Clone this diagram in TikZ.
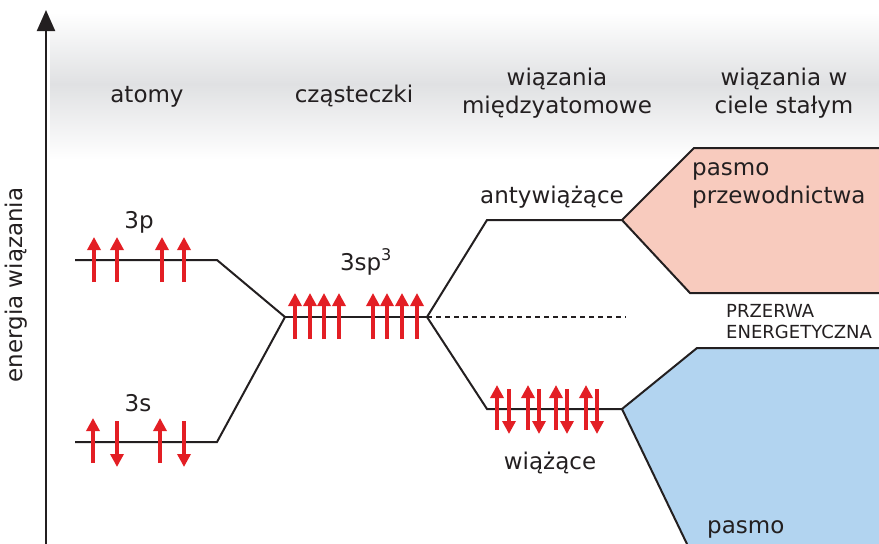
\documentclass[tikz,border=0pt]{standalone}
\usepackage{fontspec}
\setmainfont{DejaVu Sans}
\usetikzlibrary{arrows.meta}
\definecolor{spinred}{RGB}{227,30,36}
\definecolor{bandgray}{RGB}{224,225,227}
\definecolor{condpink}{RGB}{248,203,190}
\definecolor{valblue}{RGB}{178,212,240}
\definecolor{textgray}{RGB}{35,31,32}
\tikzset{
  txt/.style={font=\fontsize{23}{28}\selectfont, text=textgray, inner sep=0pt, anchor=base},
  smalltxt/.style={font=\fontsize{18}{21}\selectfont, text=textgray, inner sep=0pt, anchor=base west},
  level/.style={line width=2pt, textgray},
  spinup/.style={spinred, line width=4.6pt, -{Triangle[width=13pt,length=13pt]}},
}
\begin{document}
\begin{tikzpicture}[x=1pt, y=-1pt]
        \useasboundingbox (0,0) rectangle (879,544);

        % Tlo naglowkow
        \shade[top color=white, bottom color=bandgray] (50,12) rectangle (879,84);
        \shade[top color=bandgray, bottom color=white] (50,84) rectangle (879,160);

        % Os energii
        \coordinate (axisB) at (46,544);
        \coordinate (axisT) at (46,10);
        \draw[line width=2.2pt, textgray, -{Triangle[width=18pt,length=21pt]}] (axisB) -- (axisT);
        \node[txt, rotate=90, anchor=base] (axislabel) at (23,285) {energia wiązania};

        % Naglowki kolumn
        \node[txt] (atomy) at (147,102) {atomy};
        \node[txt] (czast) at (354,102) {cząsteczki};
        \node[txt] (wiazA) at (557,85) {wiązania};
        \node[txt] (wiazB) at (557,113) {międzyatomowe};
        \node[txt] (stalA) at (784,85) {wiązania w};
        \node[txt] (stalB) at (784,113) {ciele stałym};

        % Pasma
        \fill[condpink] (622,220) -- (694,148) -- (879,148) -- (879,293) -- (690,293) -- cycle;
        \draw[level] (879,148) -- (694,148) -- (622,220) -- (690,293) -- (879,293);
        \fill[valblue] (622,409) -- (697,348) -- (879,348) -- (879,544) -- (687,544) -- cycle;
        \draw[level] (879,348) -- (697,348) -- (622,409) -- (687,544);

        % Poziomy energetyczne
        \coordinate (p3L) at (75,260);  \coordinate (p3R) at (217,260);
        \coordinate (s3L) at (75,442);  \coordinate (s3R) at (217,442);
        \coordinate (hybL) at (285,317); \coordinate (hybR) at (427,317);
        \coordinate (abL) at (487,220); \coordinate (abR) at (622,220);
        \coordinate (bL) at (487,409);  \coordinate (bR) at (622,409);
        \coordinate (gapR) at (626,317);

        \draw[level] (p3L) -- (p3R) -- (hybL);
        \draw[level] (s3L) -- (s3R) -- (hybL);
        \draw[level] (hybL) -- (hybR);
        \draw[level] (hybR) -- (abL) -- (abR);
        \draw[level] (hybR) -- (bL) -- (bR);
        \draw[line width=1.5pt, textgray, dash pattern=on 5pt off 4pt] (hybR) -- (gapR);

        % Spiny
        \foreach \x in {94,117,162,184}
            \draw[spinup] (\x,282) -- (\x,237);
        \foreach \x in {93,160}
            \draw[spinup] (\x,463) -- (\x,418);
        \foreach \x in {117,184}
            \draw[spinup] (\x,421) -- (\x,467);
        \foreach \x in {295,310,324,339,373,387,402,417}
            \draw[spinup] (\x,339) -- (\x,293);
        \foreach \x in {497,528,556,586}
            \draw[spinup] (\x,430) -- (\x,385);
        \foreach \x in {509,539,567,597}
            \draw[spinup] (\x,389) -- (\x,434);

        % Opisy poziomow
        \node[txt] (lab3p) at (139,228) {3p};
        \node[txt] (lab3s) at (138,411) {3s};
        \node[txt] (labhyb) at (366,270) {3sp\textsuperscript{3}};
        \node[txt] (labanty) at (552,203) {antywiążące};
        \node[txt] (labwiaz) at (550,469) {wiążące};

        % Opisy pasm
        \node[txt, anchor=base west] (condA) at (692,175) {pasmo};
        \node[txt, anchor=base west] (condB) at (692,203) {przewodnictwa};
        \node[smalltxt] (gapA) at (726,317) {PRZERWA};
        \node[smalltxt] (gapB) at (726,338) {ENERGETYCZNA};
        \node[txt, anchor=base west] (valA) at (707,533) {pasmo};
\end{tikzpicture}
\end{document}
